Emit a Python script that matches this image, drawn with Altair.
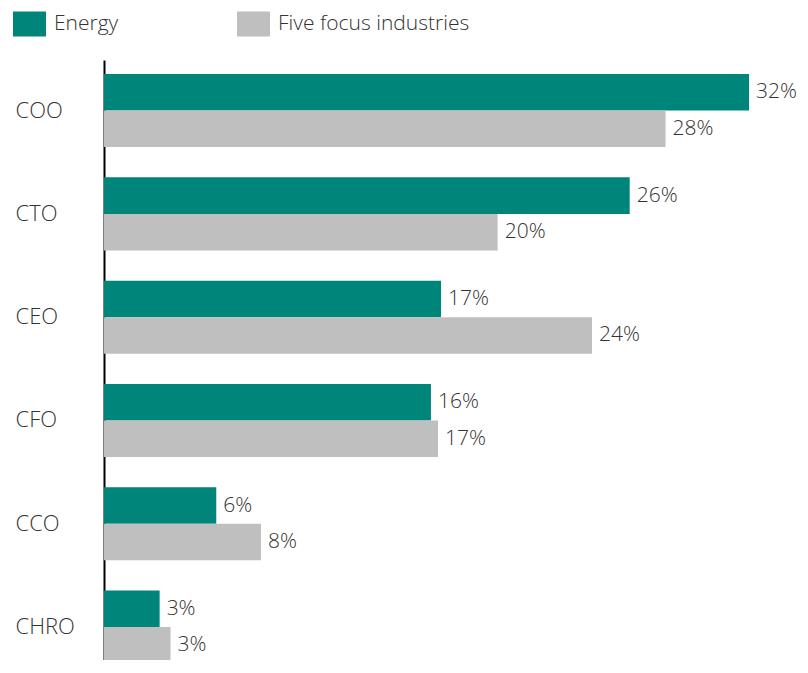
import altair as alt
import pandas as pd

roles = ["COO", "CTO", "CEO", "CFO", "CCO", "CHRO"]
series = ["Energy", "Five focus industries"]
energy = [32.0, 26.08, 16.72, 16.22, 5.57, 2.76]
focus = [27.86, 19.53, 24.21, 16.57, 7.79, 3.30]
colors = ["#00857A", "#BFBFBF"]

rows = []
for r, e, f in zip(roles, energy, focus):
    rows.append({"role": r, "series": series[0], "value": e, "label": f"{round(e)}%"})
    rows.append({"role": r, "series": series[1], "value": f, "label": f"{round(f)}%"})
df = pd.DataFrame(rows)

FONT = "Open Sans"
TXT = "#333333"
FS = 22

y_enc = alt.Y(
    "role:N",
    sort=roles,
    scale=alt.Scale(range=[0, 613], paddingInner=0.293, paddingOuter=0.1135, align=0.6),
    axis=alt.Axis(
        title=None, ticks=False, domain=True, domainColor="#000000", domainWidth=2,
        labelAlign="left", labelPadding=89, labelFontSize=FS, labelFont=FONT,
        labelColor=TXT, labelFontWeight=300, grid=False,
    ),
)
x_enc = alt.X("value:Q", scale=alt.Scale(domain=[0, 32.0], nice=False, zero=True), axis=None)
yoff = alt.YOffset("series:N", sort=series)

bars = alt.Chart(df).mark_bar().encode(
    y=y_enc,
    x=x_enc,
    yOffset=yoff,
    color=alt.Color(
        "series:N", sort=series,
        scale=alt.Scale(domain=series, range=colors),
        legend=alt.Legend(
            title=None, orient="none", direction="horizontal",
            legendX=-91, legendY=-53,
            symbolType="M-1,-0.76H1V0.76H-1Z", symbolSize=1089,
            symbolStrokeWidth=0, labelFontSize=21, labelFont=FONT, labelColor=TXT,
            labelFontWeight=300, labelOffset=8, columnPadding=118, padding=0,
            labelLimit=400,
        ),
    ),
)

labels = alt.Chart(df).mark_text(
    align="left", baseline="middle", dx=7, fontSize=21, font=FONT, color=TXT, fontWeight=300
).encode(
    y=alt.Y("role:N", sort=roles),
    x="value:Q",
    yOffset=yoff,
    text="label:N",
)

chart = alt.layer(bars, labels).properties(
    width=645, height=600,
    autosize=alt.AutoSizeParams(type="none"),
    padding={"left": 96, "top": 52, "right": 51, "bottom": 0},
).configure_view(stroke=None)

chart.save("out.html", embed_options={"renderer": "svg", "actions": False})
